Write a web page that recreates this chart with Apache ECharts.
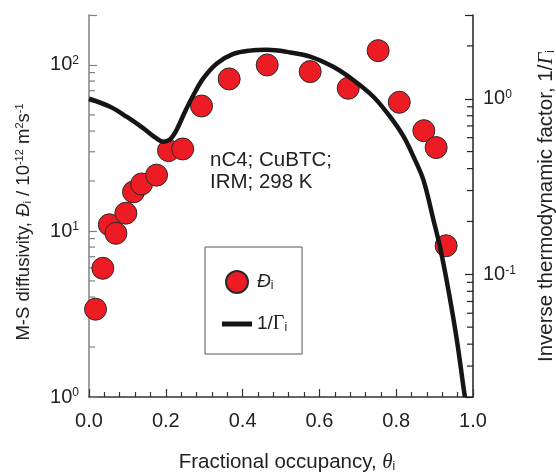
<!DOCTYPE html>
<html>
<head>
<meta charset="utf-8">
<script src="https://cdn.jsdelivr.net/npm/echarts@6/dist/echarts.min.js"></script>
<style>
  html, body { margin: 0; padding: 0; background: #fff; }
  #chart { width: 556px; height: 475px; }
</style>
</head>
<body>
<div id="chart"></div>
<script>
// M-S diffusivity of nC4 in CuBTC (IRM, 298 K) against fractional occupancy
const occupancy = [0.017, 0.036, 0.053, 0.070, 0.096, 0.116, 0.137, 0.176, 0.207, 0.244,
                   0.293, 0.365, 0.464, 0.576, 0.675, 0.753, 0.808, 0.872, 0.904, 0.930];
const diffusivity = [3.38, 5.96, 10.9, 9.68, 12.8, 17.2, 19.2, 21.7, 30.5, 31.2,
                     56.6, 82.4, 100, 91.2, 72.4, 122, 59.6, 40.2, 31.8, 8.15];

// Inverse thermodynamic factor 1/Gamma along the occupancy
const gammaOccupancy = [0.000, 0.055, 0.098, 0.141, 0.176, 0.194, 0.211, 0.228, 0.250, 0.272,
                        0.298, 0.333, 0.376, 0.419, 0.463, 0.515, 0.576, 0.636, 0.688, 0.740,
                        0.784, 0.819, 0.845, 0.871, 0.897, 0.914, 0.936, 0.958, 0.975, 0.979];
const inverseGamma = [1.00, 0.90, 0.79, 0.68, 0.594, 0.569, 0.587, 0.664, 0.844, 1.05,
                      1.31, 1.59, 1.80, 1.88, 1.90, 1.85, 1.74, 1.52, 1.28, 1.03,
                      0.79, 0.61, 0.468, 0.344, 0.204, 0.1435, 0.0813, 0.0422, 0.0229, 0.020];

// Axis ranges and minor tick positions
const xRange = [0, 1];
const xTickStep = 0.2;
const leftRange = [1, 200];
const rightRange = [0.02, 3];
const leftMinorTicks = [2, 3, 4, 5, 6, 7, 8, 9, 20, 30, 40, 50, 60, 70, 80, 90];
const rightMinorTicks = [0.03, 0.04, 0.05, 0.06, 0.07, 0.08, 0.09,
                         0.2, 0.3, 0.4, 0.5, 0.6, 0.7, 0.8, 0.9, 2];

const FONT = '"Liberation Sans", Arial, Helvetica, sans-serif';
const SERIF = '"Liberation Serif", "Times New Roman", serif';
const INK = '#222';

const chart = echarts.init(document.getElementById('chart'), null, { renderer: 'canvas' });

function powerLabel(v) {
  const e = Math.log10(v);
  const r = Math.round(e);
  if (Math.abs(e - r) < 1e-6) return '10{sup|' + r + '}';
  return '';
}

const tickRich = {
  sup: { fontSize: 12, fontFamily: FONT, color: INK, verticalAlign: 'top', lineHeight: 12 }
};

// short inward ticks at the 2..9 sub-decade values of a log axis
function minorTickSeries(values, yAxisIndex, xEdge, dir, color) {
  return {
    type: 'custom',
    xAxisIndex: 0,
    yAxisIndex: yAxisIndex,
    silent: true,
    clip: false,
    z: 1,
    data: values.map(v => [xEdge, v]),
    renderItem: function (params, api) {
      const p = api.coord([api.value(0), api.value(1)]);
      return {
        type: 'line',
        shape: { x1: p[0], y1: p[1], x2: p[0] + dir * 6, y2: p[1] },
        style: { stroke: color, lineWidth: 1.2 }
      };
    }
  };
}

const option = {
  animation: false,
  backgroundColor: '#fff',
  grid: { left: 89, right: 83, top: 15, bottom: 78, containLabel: false, outerBoundsMode: 'none' },
  xAxis: {
    type: 'value',
    min: xRange[0], max: xRange[1], interval: xTickStep,
    name: 'Fractional occupancy, {th|θ}{sub|i}',
    nameLocation: 'middle',
    nameGap: 55,
    nameTextStyle: {
      fontSize: 20.5, fontFamily: FONT, color: INK, padding: [0, 0, 0, 12],
      rich: {
        th: { fontSize: 21, fontFamily: SERIF, fontStyle: 'italic', color: INK },
        sub: { fontSize: 12, fontFamily: FONT, color: INK, verticalAlign: 'bottom', lineHeight: 11 }
      }
    },
    axisLine: { show: true, onZero: false, lineStyle: { color: '#333', width: 1.5 } },
    axisTick: { show: true, inside: true, length: 8, lineStyle: { color: '#333', width: 1.2 } },
    minorTick: { show: true, splitNumber: 5, length: 5, lineStyle: { color: '#333', width: 1.2 } },
    axisLabel: {
      fontSize: 20, fontFamily: FONT, color: INK, margin: 14,
      formatter: v => v.toFixed(1)
    },
    splitLine: { show: false }
  },
  yAxis: [
    {
      type: 'log',
      logBase: 10,
      min: leftRange[0], max: leftRange[1],
      position: 'left',
      name: 'M-S diffusivity, {it|Đ}{sub|i} / 10{sup|-12} m{sup|2}s{sup|-1}',
      nameLocation: 'middle',
      nameGap: 56,
      nameRotate: 90,
      nameTextStyle: {
        fontSize: 18.5, fontFamily: FONT, color: INK, padding: [0, 32, 0, 0],
        rich: {
          it: { fontSize: 18.5, fontFamily: FONT, fontStyle: 'italic', color: INK },
          sub: { fontSize: 11, fontFamily: FONT, color: INK, verticalAlign: 'bottom', lineHeight: 10 },
          sup: { fontSize: 11, fontFamily: FONT, color: INK, verticalAlign: 'top', lineHeight: 11 }
        }
      },
      axisLine: { show: true, lineStyle: { color: '#808080', width: 1.5 } },
      axisTick: { show: true, inside: true, length: 8, lineStyle: { color: '#808080', width: 1.2 } },
      axisLabel: {
        fontSize: 20, fontFamily: FONT, color: INK, margin: 10,
        formatter: powerLabel, rich: tickRich
      },
      splitLine: { show: false }
    },
    {
      type: 'log',
      logBase: 10,
      min: rightRange[0], max: rightRange[1],
      position: 'right',
      name: 'Inverse thermodynamic factor, 1/{g|Γ}{sub|i}',
      nameLocation: 'middle',
      nameGap: 63,
      nameRotate: 90,
      nameTextStyle: {
        fontSize: 20.5, fontFamily: FONT, color: INK,
        rich: {
          g: { fontSize: 21, fontFamily: SERIF, fontStyle: 'italic', color: INK },
          sub: { fontSize: 12, fontFamily: FONT, color: INK, verticalAlign: 'bottom', lineHeight: 11 }
        }
      },
      axisLine: { show: true, lineStyle: { color: INK, width: 1.5 } },
      axisTick: { show: true, inside: true, length: 8, lineStyle: { color: INK, width: 1.2 } },
      axisLabel: {
        fontSize: 20, fontFamily: FONT, color: INK, margin: 10,
        formatter: powerLabel, rich: tickRich
      },
      splitLine: { show: false }
    }
  ],
  legend: {
    show: true,
    orient: 'vertical',
    left: 205, top: 247,
    padding: [23, 15, 20, 17],
    itemGap: 20,
    itemWidth: 30,
    itemHeight: 22,
    symbolKeepAspect: true,
    borderColor: '#555',
    borderWidth: 1,
    borderRadius: 0,
    backgroundColor: '#fff',
    data: [
      { name: 'Đi', icon: 'circle' },
      { name: '1/Γi', icon: 'path://M0,0H30V5H0Z', itemStyle: { color: '#151515', borderWidth: 0 } }
    ],
    formatter: function (name) {
      if (name === 'Đi') return '{it|Đ}{sub|i}';
      return '1/{g|Γ}{sub|i}';
    },
    textStyle: {
      fontSize: 19, fontFamily: FONT, color: INK,
      rich: {
        it: { fontSize: 19, fontFamily: FONT, fontStyle: 'italic', color: INK },
        g: { fontSize: 20, fontFamily: SERIF, color: INK },
        sub: { fontSize: 12, fontFamily: FONT, color: INK, verticalAlign: 'bottom', lineHeight: 11 }
      }
    }
  },
  graphic: [
    {
      type: 'text',
      left: 210, top: 149,
      style: {
        text: 'nC4; CuBTC;\nIRM; 298 K',
        font: '20.5px ' + FONT,
        fill: INK,
        lineHeight: 22
      }
    }
  ],
  series: [
    minorTickSeries(leftMinorTicks, 0, xRange[0], 1, '#808080'),
    minorTickSeries(rightMinorTicks, 1, xRange[1], -1, INK),
    {
      name: 'Đi',
      type: 'scatter',
      yAxisIndex: 0,
      symbol: 'circle',
      symbolSize: 22,
      itemStyle: { color: '#ed1c24', borderColor: '#2a2a2a', borderWidth: 1, opacity: 1 },
      z: 3,
      data: occupancy.map((x, i) => [x, diffusivity[i]])
    },
    {
      name: '1/Γi',
      type: 'line',
      yAxisIndex: 1,
      symbol: 'none',
      showSymbol: false,
      smooth: 0.35,
      lineStyle: { color: '#151515', width: 4.5 },
      itemStyle: { color: '#151515' },
      z: 4,
      data: gammaOccupancy.map((x, i) => [x, inverseGamma[i]])
    }
  ]
};

chart.setOption(option);
</script>
</body>
</html>
